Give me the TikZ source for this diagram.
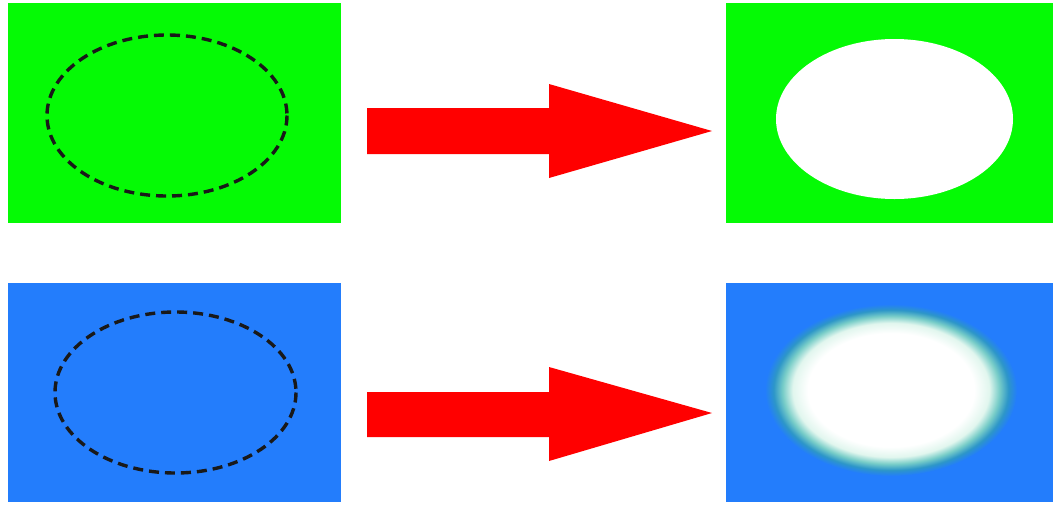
\documentclass[tikz,border=0pt]{standalone}
\usetikzlibrary{shapes.geometric}
\definecolor{mygreen}{RGB}{5,250,5}
\definecolor{myblue}{RGB}{35,125,252}
\definecolor{mymint}{RGB}{225,246,238}
\definecolor{myteal}{RGB}{120,205,200}
\definecolor{mydeep}{RGB}{45,150,200}
\pgfdeclareradialshading{glow}{\pgfpoint{0bp}{0bp}}{%
  color(0bp)=(white); color(16.5bp)=(white); color(19.5bp)=(mymint);
  color(21.5bp)=(myteal); color(23.3bp)=(mydeep); color(25bp)=(myblue); color(50bp)=(myblue)}
\tikzset{
  panel/.style={draw=none, inner sep=0pt, outer sep=0pt},
  dashring/.style={draw=black!90, line width=3.4pt, dash pattern=on 10pt off 6pt},
  bigarrow/.style={fill=red, draw=none},
}
\begin{document}
\begin{tikzpicture}[x=1pt,y=-1pt]
\useasboundingbox (0,0) rectangle (1054,504);
\fill[white] (0,0) rectangle (1054,504);
% panels
\fill[mygreen] (8,3) rectangle (341,223);
\fill[mygreen] (726,3) rectangle (1053,223);
\fill[myblue] (8,283) rectangle (341,502);
\fill[myblue] (726,283) rectangle (1053,502);
% dashed rings
\draw[dashring] (167,115.5) ellipse [x radius=120, y radius=80.5];
\draw[dashring] (175.5,392.5) ellipse [x radius=120.5, y radius=80.5];
% results
\fill[white] (894.5,119) ellipse [x radius=118.5, y radius=80];
\shade[shading=glow] (891,390) ellipse [x radius=126, y radius=86];
% arrows
\fill[bigarrow] (367,108) -- (549,108) -- (549,84) -- (712,131) -- (549,178) -- (549,154) -- (367,154) -- cycle;
\fill[bigarrow] (367,392) -- (549,392) -- (549,367) -- (712,413) -- (549,461) -- (549,437) -- (367,437) -- cycle;
\end{tikzpicture}
\end{document}
